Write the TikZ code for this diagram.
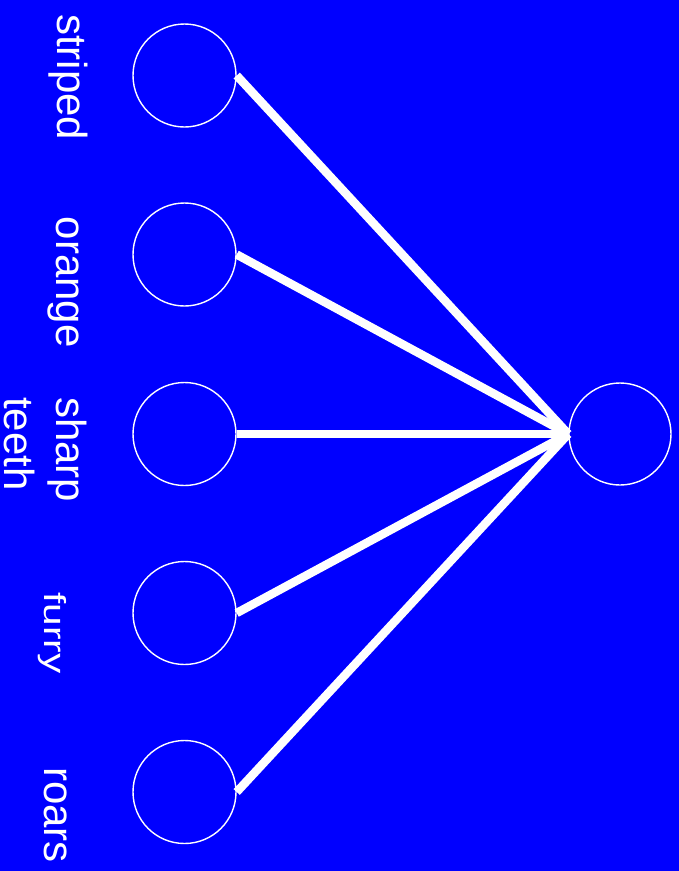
\documentclass[tikz,border=0pt]{standalone}
\usepackage{fontspec}
\setmainfont{Liberation Sans}
\definecolor{bgblue}{RGB}{0,0,255}
\begin{document}
\begin{tikzpicture}[x=1pt,y=-1pt,
  unit/.style={circle,draw=white,line width=1.4pt,minimum size=103pt,inner sep=0pt},
  conn/.style={draw=white,line width=8.5pt},
  lab/.style={text=white,inner sep=0pt,rotate=-90,anchor=base west,font=\fontsize{42}{52}\selectfont,align=left}]
\fill[bgblue] (0,0) rectangle (679,871);
\useasboundingbox (0,0) rectangle (679,871);
\node[unit] (i1) at (184.5,75.5) {};
\node[unit] (i2) at (184.5,254.5) {};
\node[unit] (i3) at (184.5,434) {};
\node[unit] (i4) at (184.5,613) {};
\node[unit] (i5) at (184.5,792) {};
\node[unit,minimum size=102pt] (o) at (620,434) {};
\foreach \i in {1,...,5} \draw[conn] (i\i.east) -- (o.west);
\node[lab] (l1) at (57,14) {striped};
\node[lab] (l2) at (56.5,216.5) {orange};
\node[lab] (l3) at (5,397) {sharp\\teeth};
\node[lab,font=\fontsize{30.5}{36}\selectfont] (l4) at (45,592) {\scalebox{1.33}[1]{furry}};
\node[lab] (l5) at (45,767) {roars};
\end{tikzpicture}
\end{document}
